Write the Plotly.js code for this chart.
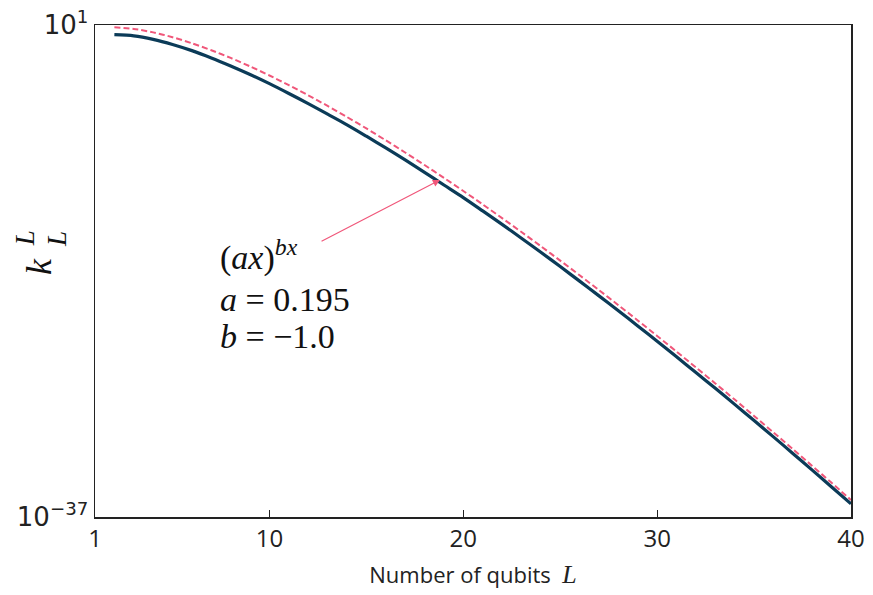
<!DOCTYPE html>
<html>
<head>
<meta charset="utf-8">
<script src="https://cdn.plot.ly/plotly-3.0.1.min.js"></script>
<style>html,body{margin:0;padding:0;background:#fff;}#chart{width:873px;height:595px;}</style>
</head>
<body>
<div id="chart"></div>
<script>
// Number of qubits L
var qubits = [2,3,4,5,6,7,8,9,10,11,12,13,14,15,16,17,18,19,20,21,22,23,24,25,26,27,28,29,30,31,32,33,34,35,36,37,38,39,40];
// measured k_L^L (solid line)
var kLL = [1.78,1.45,0.776,0.316,0.105,2.88e-2,6.92e-3,1.51e-3,2.95e-4,5.13e-5,8.51e-6,1.29e-6,1.95e-7,2.57e-8,3.24e-9,3.80e-10,4.17e-11,4.37e-12,4.68e-13,4.37e-14,3.98e-15,3.39e-16,2.82e-17,2.19e-18,1.66e-19,1.20e-20,8.51e-22,5.75e-23,3.72e-24,2.34e-25,1.45e-26,8.71e-28,5.01e-29,2.82e-30,1.55e-31,8.13e-33,4.17e-34,2.09e-35,1.05e-36];
// fit (ax)^(bx), a=0.195, b=-1.0 (dashed line)
var fitVals = [6.58,5.00,2.70,1.135,0.390,0.113,2.85e-2,6.34e-3,1.26e-3,2.26e-4,3.71e-5,5.60e-6,7.83e-7,1.02e-7,1.24e-8,1.42e-9,1.53e-10,1.56e-11,1.51e-12,1.39e-13,1.22e-14,1.02e-15,8.20e-17,6.32e-18,4.68e-19,3.33e-20,2.29e-21,1.51e-22,9.66e-24,5.98e-25,3.58e-26,2.08e-27,1.17e-28,6.40e-30,3.40e-31,1.76e-32,8.85e-34,4.34e-35,2.07e-36];
var xTicks = [1,10,20,30,40];
var yTickVals = [1e-37, 1e1];
var yTickText = ['10<sup>\u221237</sup>', '10<sup>1</sup>'];

var serif = '"Liberation Serif", "DejaVu Serif", serif';
var narrow = '"Liberation Sans Narrow", "Open Sans", sans-serif';

var traces = [
  {x: qubits, y: kLL, type: 'scatter', mode: 'lines', line: {color: '#0b3b58', width: 3.2, shape: 'spline', smoothing: 0.8}, showlegend: false, hoverinfo: 'skip'},
  {x: qubits, y: fitVals, type: 'scatter', mode: 'lines', line: {color: '#f0577a', width: 2, dash: '6px,3px', shape: 'spline', smoothing: 0.8}, showlegend: false, hoverinfo: 'skip'}
];

var layout = {
  width: 873, height: 595,
  margin: {l: 95, r: 22, t: 25, b: 78},
  paper_bgcolor: '#fff', plot_bgcolor: '#fff',
  showlegend: false,
  xaxis: {
    range: [1, 40], tickvals: xTicks, ticktext: xTicks.map(String),
    ticks: 'inside', ticklen: 7, tickwidth: 1.2, tickcolor: '#222',
    showline: true, mirror: true, linecolor: '#222', linewidth: 1.5,
    showgrid: false, zeroline: false,
    tickfont: {family: narrow, size: 24, color: '#222'},
    title: {text: 'Number of qubits  <span style="font-family:Liberation Serif;font-style:italic;font-size:26px">L</span>', font: {family: narrow, size: 22, color: '#222'}, standoff: 14}
  },
  yaxis: {
    type: 'log', range: [-37, 1], tickvals: yTickVals, ticktext: yTickText,
    ticks: 'inside', ticklen: 7, tickwidth: 1.2, tickcolor: '#222',
    showline: true, mirror: true, linecolor: '#222', linewidth: 1.5,
    showgrid: false, zeroline: false,
    tickfont: {family: '"DejaVu Sans", sans-serif', size: 26, color: '#222'}
  },
  annotations: [
    {xref: 'paper', yref: 'paper', x: -0.074, y: 0.508, text: '<i>k</i>', showarrow: false, textangle: -90, font: {family: serif, size: 36, color: '#111'}, xanchor: 'center', yanchor: 'middle'},
    {xref: 'paper', yref: 'paper', x: -0.093, y: 0.566, text: '<i>L</i>', showarrow: false, textangle: -90, font: {family: serif, size: 27, color: '#111'}, xanchor: 'center', yanchor: 'middle'},
    {xref: 'paper', yref: 'paper', x: -0.051, y: 0.566, text: '<i>L</i>', showarrow: false, textangle: -90, font: {family: serif, size: 27, color: '#111'}, xanchor: 'center', yanchor: 'middle'},
    {xref: 'paper', yref: 'paper', x: (218 - 95) / 756, y: (517 - 255) / 492, text: '(<i>ax</i>)<sup><i>bx</i></sup>', showarrow: false, xanchor: 'left', yanchor: 'middle', font: {family: serif, size: 34, color: '#111'}},
    {xref: 'paper', yref: 'paper', x: (218 - 95) / 756, y: (517 - 299) / 492, text: '<i>a</i> = 0.195', showarrow: false, xanchor: 'left', yanchor: 'middle', font: {family: serif, size: 34, color: '#111'}},
    {xref: 'paper', yref: 'paper', x: (218 - 95) / 756, y: (517 - 336) / 492, text: '<i>b</i> = \u22121.0', showarrow: false, xanchor: 'left', yanchor: 'middle', font: {family: serif, size: 34, color: '#111'}},
    {xref: 'x', yref: 'y', x: 18.8, y: -10.97, text: '', showarrow: true, arrowhead: 2, arrowsize: 1.2, arrowwidth: 1.2, arrowcolor: '#f0577a', ax: -120, ay: 62, standoff: 0}
  ]
};

Plotly.newPlot('chart', traces, layout, {staticPlot: true, displayModeBar: false});
</script>
</body>
</html>
